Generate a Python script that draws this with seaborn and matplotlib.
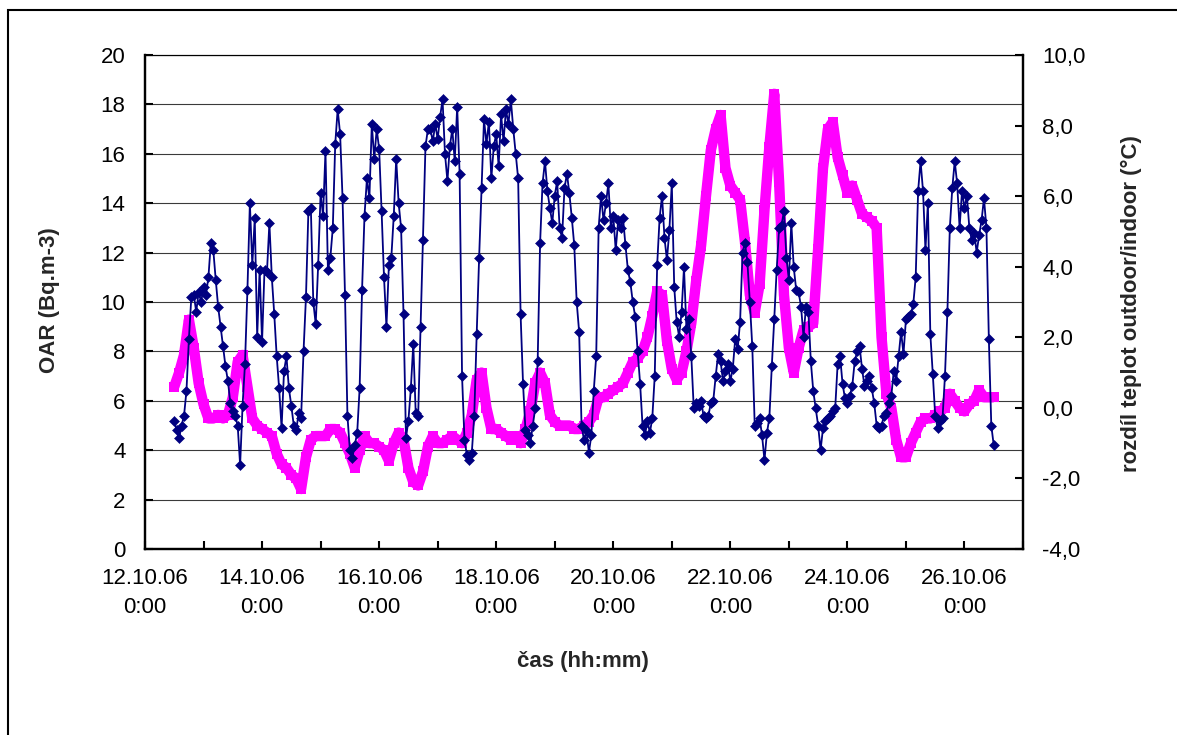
import pandas as pd
import matplotlib
matplotlib.use("Agg")
import matplotlib.pyplot as plt
import matplotlib.dates as mdates
from matplotlib.lines import Line2D
from matplotlib.patches import Rectangle
import seaborn as sns

# ---------------- data ----------------
# OAR (Bq.m-3), hourly values, starting 12.10.2006 12:00
oar_d12 = [5.2, 4.8, 4.5, 5.0, 5.4, 6.4, 8.5, 10.2, 10.3, 9.6, 10.4, 10.0]
oar_d13 = [10.6, 10.3, 11.0, 12.4, 12.1, 10.9, 9.8, 9.0, 8.2, 7.4, 6.8, 5.9,
           5.6, 5.4, 5.0, 3.4, 5.8, 7.5, 10.5, 14.0, 11.5, 13.4, 8.6, 11.3]
oar_d14 = [8.4, 11.3, 11.2, 13.2, 11.0, 9.5, 7.8, 6.5, 4.9, 7.2, 7.8, 6.5,
           5.8, 5.0, 4.8, 5.5, 5.3, 8.0, 10.2, 13.7, 13.8, 10.0, 9.1, 11.5]
oar_d15 = [14.4, 13.5, 16.1, 11.3, 11.8, 13.0, 16.4, 17.8, 16.8, 14.2, 10.3, 5.4,
           4.0, 3.7, 4.2, 4.7, 6.5, 10.5, 13.5, 15.0, 14.2, 17.2, 15.8, 17.0]
oar_d16 = [16.2, 13.7, 11.0, 9.0, 11.5, 11.8, 13.5, 15.8, 14.0, 13.0, 9.5, 4.5,
           5.2, 6.5, 8.3, 5.5, 5.4, 9.0, 12.5, 16.3, 17.0, 17.0, 16.5, 17.2]
oar_d17 = [16.6, 17.5, 18.2, 16.0, 14.9, 16.3, 17.0, 15.7, 17.9, 15.2, 7.0, 4.4,
           3.8, 3.6, 3.9, 5.4, 8.7, 11.8, 14.6, 17.4, 16.4, 17.3, 15.0, 16.3]
oar_d18 = [16.8, 15.5, 17.6, 16.5, 17.8, 17.2, 18.2, 17.0, 16.0, 15.0, 9.5, 6.7,
           4.8, 4.6, 4.3, 5.0, 5.7, 7.6, 12.4, 14.8, 15.7, 14.5, 13.8, 13.2]
oar_d19 = [14.3, 14.9, 13.0, 12.6, 14.6, 15.2, 14.4, 13.4, 12.3, 10.0, 8.8, 5.0,
           4.4, 4.8, 3.9, 4.6, 6.4, 7.8, 13.0, 14.3, 13.3, 14.0, 14.8, 13.0]
oar_d20 = [13.5, 12.1, 13.3, 13.0, 13.4, 12.3, 11.3, 10.8, 10.0, 9.4, 8.0, 6.7,
           5.0, 4.6, 5.2, 4.7, 5.3, 7.0, 11.5, 13.4, 14.3, 12.6, 11.7, 12.9]
oar_d21 = [14.8, 10.6, 9.2, 8.6, 9.6, 11.4, 8.9, 9.3, 7.8, 5.7, 5.9, 5.8,
           6.0, 5.4, 5.3, 5.4, 5.9, 6.0, 7.0, 7.9, 7.6, 6.8, 7.2, 7.5]
oar_d22 = [6.8, 7.3, 8.5, 8.1, 9.2, 12.0, 12.4, 11.6, 10.0, 8.2, 5.0, 5.1,
           5.3, 4.6, 3.6, 4.7, 5.3, 7.4, 9.3, 11.3, 13.0, 13.1, 13.7, 11.8]
oar_d23 = [10.9, 13.2, 11.4, 10.5, 10.4, 9.8, 8.6, 9.8, 9.6, 7.6, 6.4, 5.7,
           5.0, 4.0, 4.9, 5.2, 5.3, 5.4, 5.6, 5.7, 7.5, 7.8, 6.7, 6.1]
oar_d24 = [5.9, 6.2, 6.6, 7.6, 8.0, 8.2, 7.3, 6.6, 6.8, 7.0, 6.5, 5.9,
           5.0, 4.9, 5.0, 5.4, 5.5, 5.9, 6.2, 7.2, 6.8, 7.8, 8.8, 7.9]
oar_d25 = [9.3, 9.4, 9.5, 9.9, 11.0, 14.5, 15.7, 14.5, 12.1, 14.0, 8.7, 7.1,
           5.4, 4.9, 5.2, 5.3, 7.0, 9.6, 13.0, 14.6, 15.7, 14.8, 13.0, 14.5]
oar_d26 = [13.8, 14.3, 13.0, 12.5, 12.8, 12.0, 12.7, 13.3, 14.2, 13.0, 8.5, 5.0, 4.2]
oar_start = "2006-10-12 12:00"

# temperature difference outdoor/indoor (deg C), 2-hourly values, starting 12.10.2006 12:00
dt_d12 = [0.6, 1.0, 1.5, 2.5, 1.7, 0.7]
dt_d13 = [0.1, -0.3, -0.3, -0.2, -0.3, -0.2, 0.3, 1.3, 1.5, 0.6, -0.3, -0.5]
dt_d14 = [-0.6, -0.7, -0.8, -1.3, -1.6, -1.7, -1.9, -2.0, -2.3, -1.4, -0.9, -0.8]
dt_d15 = [-0.8, -0.8, -0.6, -0.6, -0.7, -1.0, -1.3, -1.7, -1.2, -0.8, -1.0, -1.0]
dt_d16 = [-1.1, -1.2, -1.5, -1.0, -0.7, -0.9, -1.7, -2.1, -2.2, -1.8, -1.1, -0.8]
dt_d17 = [-1.0, -1.0, -0.9, -0.8, -0.9, -1.0, -0.7, -0.2, 0.8, 1.0, 0.0, -0.6]
dt_d18 = [-0.6, -0.7, -0.8, -0.9, -0.8, -1.0, -0.6, -0.1, 0.7, 1.0, 0.7, -0.2]
dt_d19 = [-0.4, -0.5, -0.5, -0.5, -0.6, -0.6, -0.5, -0.4, -0.2, 0.3, 0.3, 0.4]
dt_d20 = [0.5, 0.6, 0.7, 1.0, 1.3, 1.4, 1.6, 2.0, 2.6, 3.3, 3.2, 1.9]
dt_d21 = [1.1, 0.8, 1.0, 1.6, 2.4, 3.6, 4.6, 6.0, 7.3, 7.9, 8.3, 6.8]
dt_d22 = [6.3, 6.1, 5.9, 4.7, 3.2, 2.7, 3.5, 5.6, 7.4, 8.9, 6.4, 3.2]
dt_d23 = [1.7, 1.0, 1.7, 2.2, 2.3, 2.4, 4.5, 6.8, 7.9, 8.1, 7.1, 6.6]
dt_d24 = [6.1, 6.3, 5.9, 5.5, 5.4, 5.3, 5.1, 2.0, 0.4, 0.0, -0.9, -1.4]
dt_d25 = [-1.4, -1.0, -0.7, -0.4, -0.3, -0.3, -0.2, -0.1, 0.0, 0.4, 0.2, 0.0]
dt_d26 = [-0.1, 0.1, 0.2, 0.5, 0.3, 0.3, 0.3]
dt_start = "2006-10-12 12:00"

x_range = ["2006-10-12", "2006-10-27"]
x_tick_labels = ["12.10.06\n0:00", "", "14.10.06\n0:00", "", "16.10.06\n0:00", "",
                 "18.10.06\n0:00", "", "20.10.06\n0:00", "", "22.10.06\n0:00", "",
                 "24.10.06\n0:00", "", "26.10.06\n0:00", ""]
left_ticks = [0, 2, 4, 6, 8, 10, 12, 14, 16, 18, 20]
right_ticks = [-4, -2, 0, 2, 4, 6, 8, 10]
xlabel = "čas (hh:mm)"
ylabel_left = "OAR (Bq.m-3)"
ylabel_right = "rozdíl teplot outdoor/indoor (°C)"

# ---------------- build frames ----------------
oar = (oar_d12 + oar_d13 + oar_d14 + oar_d15 + oar_d16 + oar_d17 + oar_d18 + oar_d19
       + oar_d20 + oar_d21 + oar_d22 + oar_d23 + oar_d24 + oar_d25 + oar_d26)
dtemp = (dt_d12 + dt_d13 + dt_d14 + dt_d15 + dt_d16 + dt_d17 + dt_d18 + dt_d19
         + dt_d20 + dt_d21 + dt_d22 + dt_d23 + dt_d24 + dt_d25 + dt_d26)
df_oar = pd.DataFrame({"t": pd.date_range(oar_start, periods=len(oar), freq="h"), "v": oar})
df_dt = pd.DataFrame({"t": pd.date_range(dt_start, periods=len(dtemp), freq="2h"), "v": dtemp})

# ---------------- figure ----------------
sns.set_style("white")
plt.rcParams["font.family"] = ["Liberation Sans", "DejaVu Sans"]

W, H = 1177, 735
fig = plt.figure(figsize=(W / 100, H / 100), dpi=100)
L, R, T, B = 145, 1023, 55, 549
ax = fig.add_axes([L / W, 1 - B / H, (R - L) / W, (B - T) / H])
ax2 = ax.twinx()
ax.set_zorder(ax2.get_zorder() + 1)
ax.patch.set_visible(False)
ax2.patch.set_facecolor("white")

magenta = "#FF00FF"
navy = "#000080"

sns.lineplot(data=df_dt, x="t", y="v", ax=ax2, color=magenta, marker="s",
             markersize=7.5, markeredgewidth=0, markeredgecolor=magenta,
             linewidth=7.5, solid_joinstyle="round", solid_capstyle="butt", zorder=3)
sns.lineplot(data=df_oar, x="t", y="v", ax=ax, color=navy, marker="D",
             markersize=4.8, markeredgewidth=0.4, markeredgecolor=navy,
             linewidth=1.3, zorder=3)

# limits
x0, x1 = mdates.date2num(pd.Timestamp(x_range[0])), mdates.date2num(pd.Timestamp(x_range[1]))
ax.set_xlim(x0, x1)
ax.set_ylim(left_ticks[0], left_ticks[-1])
ax2.set_ylim(right_ticks[0], right_ticks[-1])

# horizontal gridlines (drawn under the curves, in left-axis units)
for v in left_ticks:
    ax2.add_artist(Line2D([0, 1], [v, v], transform=ax.get_yaxis_transform(),
                          color="#3a3a3a", linewidth=0.8, zorder=1))

# ticks
day_ticks = [mdates.date2num(d) for d in pd.date_range(x_range[0], x_range[1], freq="D")]
ax.set_xticks(day_ticks)
ax.set_xticklabels(x_tick_labels[:len(day_ticks)] + [""] * (len(day_ticks) - len(x_tick_labels)),
                   linespacing=1.45)
ax.set_yticks(left_ticks)
ax.set_yticklabels([str(v) for v in left_ticks])
ax2.set_yticks(right_ticks)
ax2.set_yticklabels([f"{v:.1f}".replace(".", ",") for v in right_ticks])

fs = 16
ax.tick_params(axis="x", direction="in", length=6, width=1.5, labelsize=fs, pad=14,
               colors="black", top=False, bottom=True)
ax.tick_params(axis="y", direction="in", length=6, width=1.5, labelsize=fs, pad=14,
               colors="black", left=True, right=False)
ax2.tick_params(axis="y", direction="in", length=6, width=1.5, labelsize=fs, pad=14,
                colors="black", right=True)
ax.set_xlabel("")
ax.set_ylabel("")
ax2.set_ylabel("")

for a in (ax, ax2):
    for s in a.spines.values():
        s.set_color("black")
    a.spines["left"].set_linewidth(1.6)
    a.spines["bottom"].set_linewidth(1.6)
    a.spines["right"].set_linewidth(1.6)
    a.spines["top"].set_linewidth(0.8)

# axis titles
fig.text(583 / W, 1 - 662 / H, xlabel, ha="center", va="center", fontsize=fs, fontweight="bold")
fig.text(50 / W, 1 - 300 / H, ylabel_left, ha="center", va="center", rotation=90,
         fontsize=fs, fontweight="bold")
fig.text(1131 / W, 1 - 304 / H, ylabel_right, ha="center", va="center", rotation=90,
         fontsize=fs, fontweight="bold")

# outer frame (chart area border)
fig.patches.append(Rectangle((8 / W, -0.05), 1.2, (1 - 10 / H) + 0.05, transform=fig.transFigure,
                             fill=False, edgecolor="black", linewidth=1.5))

fig.savefig("out.png", dpi=100)
